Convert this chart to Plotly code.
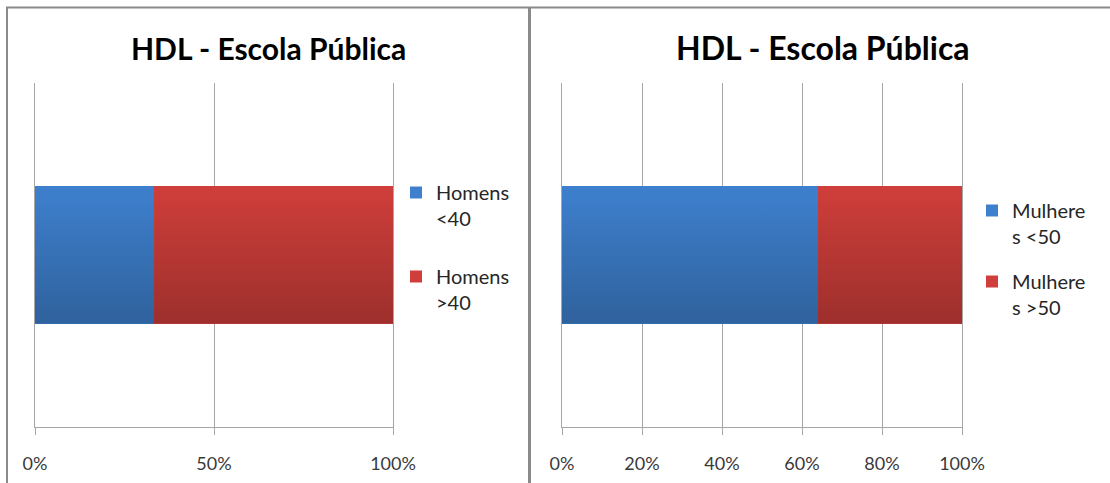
import base64
import plotly.graph_objects as go

# HDL results by sex and age group, share of each group (%)
title_text = "HDL - Escola Pública"

men_groups = ["Homens<br><40", "Homens<br>>40"]
men_share = [33.3, 66.7]

women_groups = ["Mulhere<br>s <50", "Mulhere<br>s >50"]
women_share = [64.0, 36.0]

left_ticks = [0, 50, 100]
right_ticks = [0, 20, 40, 60, 80, 100]

colors = ["#3E80CE", "#CF3E3A"]
font_family = "Lato, 'Open Sans', sans-serif"
grid_col = "#a6a6a6"
bar_width = 0.4

W, H = 1110, 483


def px_x(v):
    return v / W


def px_y(v):
    return 1 - v / H


fig = go.Figure()

for i, (name, val, col) in enumerate(zip(men_groups, men_share, colors)):
    fig.add_trace(go.Bar(
        x=[val], y=[0], orientation="h", name=name, width=bar_width,
        marker=dict(color=col, line=dict(width=0)),
        xaxis="x", yaxis="y", legend="legend", legendgroup="m%d" % i,
    ))

for i, (name, val, col) in enumerate(zip(women_groups, women_share, colors)):
    fig.add_trace(go.Bar(
        x=[val], y=[0], orientation="h", name=name, width=bar_width,
        marker=dict(color=col, line=dict(width=0)),
        xaxis="x2", yaxis="y2", legend="legend2", legendgroup="w%d" % i,
    ))

# vertical shading laid over each stacked bar (lighter top, darker bottom)
shade_svg = (
    '<svg xmlns="http://www.w3.org/2000/svg" width="100" height="100" '
    'preserveAspectRatio="none"><defs><linearGradient id="g" x1="0" y1="0" x2="0" y2="1">'
    '<stop offset="0" stop-color="#000" stop-opacity="0"/>'
    '<stop offset="1" stop-color="#000" stop-opacity="0.24"/>'
    '</linearGradient></defs><rect width="100" height="100" fill="url(#g)"/></svg>'
)
shade_src = "data:image/svg+xml;base64," + base64.b64encode(shade_svg.encode()).decode()

images = []
for xr, yr, total in (("x", "y", sum(men_share)), ("x2", "y2", sum(women_share))):
    images.append(dict(
        source=shade_src, xref=xr, yref=yr, x=0, y=bar_width / 2,
        sizex=total, sizey=bar_width, sizing="stretch",
        xanchor="left", yanchor="top", layer="above",
    ))

tick_font = dict(family=font_family, size=18, color="#3a3a3a")
legend_font = dict(family=font_family, size=20, color="#262626")


def x_axis(ticks, dom, anchor):
    return dict(
        domain=dom, anchor=anchor, range=[0, 100],
        tickvals=ticks, ticktext=["%d%%" % t for t in ticks],
        showgrid=True, gridcolor=grid_col, gridwidth=1, zeroline=False,
        showline=True, linecolor=grid_col, linewidth=1,
        ticks="outside", ticklen=7, tickcolor=grid_col,
        tickfont=tick_font, ticklabelstandoff=13, fixedrange=True,
    )


def y_axis(anchor):
    return dict(
        domain=[px_y(427), px_y(83)], anchor=anchor, range=[-0.5, 0.5],
        showticklabels=False, showgrid=False, zeroline=False,
        showline=True, mirror=True, linecolor=grid_col, linewidth=1,
        ticks="", fixedrange=True,
    )


fig.update_layout(
    width=W, height=H,
    margin=dict(l=0, r=0, t=0, b=0, autoexpand=False),
    paper_bgcolor="white", plot_bgcolor="white",
    barmode="stack",
    xaxis=x_axis(left_ticks, [px_x(35), px_x(393)], "y"),
    yaxis=y_axis("x"),
    xaxis2=x_axis(right_ticks, [px_x(562), px_x(962)], "y2"),
    yaxis2=y_axis("x2"),
    legend=dict(x=px_x(396), y=px_y(173), xanchor="left", yanchor="top",
                font=legend_font, traceorder="grouped", tracegroupgap=29,
                valign="top", itemwidth=30, bgcolor="rgba(0,0,0,0)"),
    legend2=dict(x=px_x(972), y=px_y(191), xanchor="left", yanchor="top",
                 font=legend_font, traceorder="grouped", tracegroupgap=16,
                 valign="top", itemwidth=30, bgcolor="rgba(0,0,0,0)"),
    showlegend=True,
    images=images,
    annotations=[
        dict(text="<b>%s</b>" % title_text, x=px_x(268), y=px_y(48), xref="paper", yref="paper",
             showarrow=False, xanchor="center", yanchor="middle",
             font=dict(family=font_family, size=30, color="black")),
        dict(text="<b>%s</b>" % title_text, x=px_x(823), y=px_y(48), xref="paper", yref="paper",
             showarrow=False, xanchor="center", yanchor="middle",
             font=dict(family=font_family, size=32, color="black")),
    ],
    shapes=[
        dict(type="line", xref="paper", yref="paper", x0=px_x(6), x1=1, y0=px_y(7.5), y1=px_y(7.5),
             line=dict(color="#8a8a8a", width=2)),
        dict(type="line", xref="paper", yref="paper", x0=px_x(7), x1=px_x(7), y0=0, y1=px_y(7),
             line=dict(color="#8a8a8a", width=2)),
        dict(type="line", xref="paper", yref="paper", x0=px_x(529.5), x1=px_x(529.5), y0=0, y1=px_y(7),
             line=dict(color="#8a8a8a", width=3)),
    ],
)

fig.write_html("out.html")
